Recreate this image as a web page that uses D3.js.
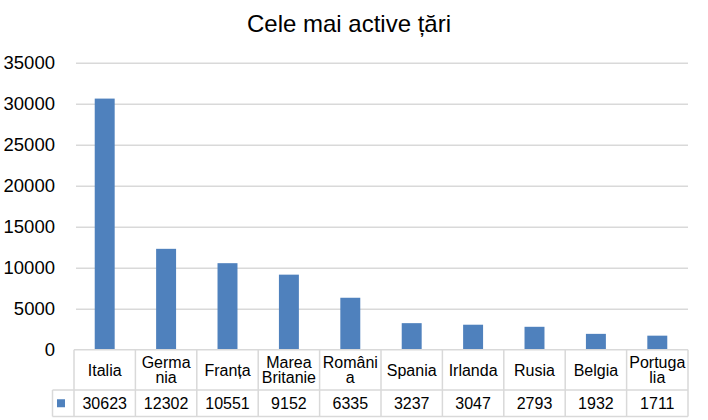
<!DOCTYPE html>
<html>
<head>
<meta charset="utf-8">
<script src="https://cdn.jsdelivr.net/npm/d3@7"></script>
<style>
  body { margin: 0; background: #fff; }
  svg { display: block; font-family: "Liberation Sans", Arial, sans-serif; }
</style>
</head>
<body>
<div id="chart"></div>
<script>
// Chart data
const countries = ["Italia", "Germania", "Franța", "Marea Britanie", "România", "Spania", "Irlanda", "Rusia", "Belgia", "Portugalia"];
const labelLines = [["Italia"], ["Germa", "nia"], ["Franța"], ["Marea", "Britanie"], ["Români", "a"], ["Spania"], ["Irlanda"], ["Rusia"], ["Belgia"], ["Portuga", "lia"]];
const values = [30623, 12302, 10551, 9152, 6335, 3237, 3047, 2793, 1932, 1711];
const yTicks = [0, 5000, 10000, 15000, 20000, 25000, 30000, 35000];

const W = 708, H = 420;
const margin = {top: 62.7, left: 74, right: 20};
const plotRight = 688;
const zeroY = 349.7;
const row1Bottom = 390, row2Bottom = 416.5, legendLeft = 52.5;
const barColor = "#4F81BD";
const lineColor = "#D9D9D9";

const svg = d3.select("#chart").append("svg")
    .attr("width", W)
    .attr("height", H);

// Title
svg.append("text")
    .attr("x", 349)
    .attr("y", 32)
    .attr("text-anchor", "middle")
    .style("font-size", "24px")
    .attr("fill", "#000")
    .text("Cele mai active țări");

// Scales
const x = d3.scaleBand()
    .domain(countries)
    .range([margin.left, plotRight]);

const y = d3.scaleLinear()
    .domain([0, 35000])
    .range([zeroY, margin.top]);

// Y axis with gridlines
const yAxis = svg.append("g")
    .attr("transform", `translate(${margin.left},0)`)
    .call(d3.axisLeft(y)
        .tickValues(yTicks)
        .tickSize(-(plotRight - margin.left))
        .tickPadding(19)
        .tickFormat(d3.format("d")));
yAxis.select(".domain").remove();
yAxis.selectAll(".tick line")
    .attr("stroke", lineColor)
    .attr("stroke-width", 1.5)
    .attr("x1", 2)
    .filter(d => d === 0).remove();
yAxis.selectAll(".tick text")
    .style("font-size", "18.5px")
    .attr("fill", "#000");

// Bars
const barW = x.bandwidth() * 0.325;
svg.selectAll(".bar")
    .data(values)
    .enter()
    .append("rect")
    .attr("class", "bar")
    .attr("x", (d, i) => x(countries[i]) + (x.bandwidth() - barW) / 2)
    .attr("y", d => y(d))
    .attr("width", barW)
    .attr("height", d => y(0) - y(d))
    .attr("fill", barColor);

// Data table
const table = svg.append("g")
    .attr("fill", "none")
    .attr("stroke", lineColor)
    .attr("stroke-width", 1.5);

table.append("line")
    .attr("x1", margin.left).attr("x2", plotRight)
    .attr("y1", zeroY).attr("y2", zeroY);
table.append("line")
    .attr("x1", legendLeft).attr("x2", plotRight)
    .attr("y1", row1Bottom).attr("y2", row1Bottom);
table.append("line")
    .attr("x1", legendLeft).attr("x2", plotRight)
    .attr("y1", row2Bottom).attr("y2", row2Bottom);
table.append("line")
    .attr("x1", legendLeft).attr("x2", legendLeft)
    .attr("y1", row1Bottom).attr("y2", row2Bottom);

// Column separators
const edges = countries.map(c => x(c)).concat([plotRight]);
table.selectAll(".sep")
    .data(edges)
    .enter()
    .append("line")
    .attr("x1", d => d).attr("x2", d => d)
    .attr("y1", zeroY).attr("y2", row2Bottom);

// Row 1: category labels
const row1Mid = (zeroY + row1Bottom) / 2;
const lineGap = 15.5;
const labels = svg.append("g")
    .style("font-size", "16px")
    .attr("fill", "#000")
    .attr("text-anchor", "middle");

labels.selectAll(".cat")
    .data(labelLines)
    .enter()
    .append("text")
    .attr("class", "cat")
    .each(function(lines, i) {
        const t = d3.select(this);
        const cx = x(countries[i]) + x.bandwidth() / 2;
        const startY = row1Mid - (lines.length - 1) * lineGap / 2 + 5.8;
        lines.forEach((ln, j) => {
            t.append("tspan")
                .attr("x", cx)
                .attr("y", startY + j * lineGap)
                .text(ln);
        });
    });

// Row 2: values
const row2Mid = (row1Bottom + row2Bottom) / 2;
labels.selectAll(".val")
    .data(values)
    .enter()
    .append("text")
    .attr("class", "val")
    .attr("x", (d, i) => x(countries[i]) + x.bandwidth() / 2)
    .attr("y", row2Mid + 5.8)
    .text(d => d);

// Legend key
svg.append("rect")
    .attr("x", 57)
    .attr("y", row2Mid - 4)
    .attr("width", 8)
    .attr("height", 8)
    .attr("fill", barColor);
</script>
</body>
</html>
